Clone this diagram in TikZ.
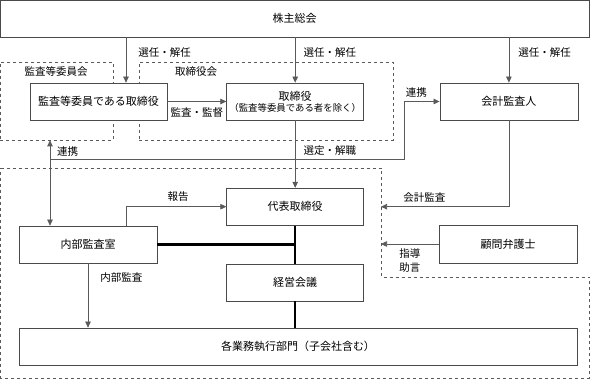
\documentclass[tikz,border=0pt]{standalone}
\usepackage{fontspec}
\newfontfamily\jpfont{Noto Sans CJK JP}
\usepackage{tikz}
\usetikzlibrary{positioning,arrows.meta,calc}
\definecolor{colLinea}{HTML}{5A5A5A}
\definecolor{colBorde}{HTML}{4A4A4A}

\begin{document}
\begin{tikzpicture}[
  x=1pt, y=-1pt,
  font=\jpfont\fontsize{11}{13}\selectfont,
  >={Triangle[length=6pt,width=5.5pt]},
  caja/.style={
    rectangle, draw=colBorde, fill=white, line width=0.7pt,
    minimum width=137pt, minimum height=37pt, inner sep=0pt
  },
  grupo/.style={
    rectangle, draw=colLinea, dashed, line width=0.7pt,
    inner sep=0pt
  },
  flecha/.style={->, draw=colLinea, line width=0.7pt},
  grueso/.style={draw=black, line width=2.2pt},
  etiqueta/.style={inner sep=0pt, font=\jpfont\fontsize{10.5}{14}\selectfont}
]
  \useasboundingbox (0,0) rectangle (590,379);

  % Grupos punteados
  \node[grupo, minimum width=113pt, minimum height=78pt] (grpKansa) at (56.5,101) {};
  \node[etiqueta] at (56,72) {監査等委員会};
  \node[grupo, minimum width=254pt, minimum height=78pt] (grpTorishimari) at (266,101) {};
  \node[etiqueta] at (196,72) {取締役会};

  \coordinate (gyoA) at (0.5,168);
  \coordinate (gyoB) at (381,168);
  \coordinate (gyoC) at (381,277);
  \coordinate (gyoD) at (589,277);
  \coordinate (gyoE) at (589,378);
  \coordinate (gyoF) at (0.5,378);
  \draw[colLinea, dashed, line width=0.7pt]
    (gyoA) -- (gyoB) -- (gyoC) -- (gyoD) -- (gyoE) -- (gyoF) -- cycle;

  % Cajas
  \node[caja, minimum width=589pt] (kabunushi) at (294.5,18.5) {株主総会};
  \node[caja] (kansa) at (98.5,101.5) {監査等委員である取締役};
  \node[caja, right=59pt of kansa, align=center] (torishimari)
    {取締役\\[-2pt]{\fontsize{9.4}{11}\selectfont （監査等委員である者を除く）}};
  \node[caja, right=75.5pt of torishimari, minimum width=138pt] (kaikei) {会計監査人};
  \node[caja, below=67.5pt of torishimari] (daihyo) {代表取締役};
  \node[caja, below=38pt of daihyo] (keiei) {経営会議};
  \node[caja, minimum width=138pt] (naibu) at (88,244.5) {内部監査室};
  \node[caja, minimum width=138pt, minimum height=38pt] (komon) at (508,244) {顧問弁護士};
  \node[caja, minimum width=558pt] (gyomu) at (298,346.5) {各業務執行部門（子会社含む）};

  % Relaciones
  \draw[flecha] ([xshift=27.5pt]kansa.north |- kabunushi.south) -- node[etiqueta, pos=0.33, right=12pt] {選任・解任} ([xshift=27.5pt]kansa.north);
  \draw[flecha] (kabunushi.south -| torishimari.north) -- node[etiqueta, pos=0.33, right=8pt] {選任・解任} (torishimari.north);
  \draw[flecha] (kabunushi.south -| kaikei.north) -- node[etiqueta, pos=0.33, right=9pt] {選任・解任} (kaikei.north);
  \draw[flecha] (kansa.east) -- node[etiqueta, below=6pt] {監査・監督} (torishimari.west);
  \draw[flecha] (torishimari.south) -- node[etiqueta, pos=0.44, right=8pt] {選定・解職} (daihyo.north);

  \draw[flecha, <->] ([xshift=-6.5pt]grpKansa.south) -- ([xshift=-38pt]naibu.north);
  \coordinate (renkei) at (50,159);
  \node[etiqueta, anchor=south west] at ([xshift=7pt,yshift=2pt]renkei) {連携};
  \draw[flecha] (renkei) -| ($(kaikei.west)+(-35pt,0)$) node[etiqueta, anchor=south west, xshift=1pt, yshift=4pt] {連携} -- (kaikei.west);

  \draw[flecha] ([xshift=38pt]naibu.north) |- node[etiqueta, pos=0.76, above=5pt] {報告} (daihyo.west);
  \draw[flecha] (naibu.south) -- node[etiqueta, pos=0.22, right=12pt] {内部監査} (naibu.south |- gyomu.north);

  \draw[grueso] (daihyo.south) -- (keiei.north);
  \draw[grueso] (naibu.east) -- (naibu.east -| daihyo.south);
  \draw[grueso] (keiei.south) -- (keiei.south |- gyomu.north);

  \draw[flecha] (kaikei.south) |- node[etiqueta, pos=0.83, above=4pt] {会計監査} (gyoB |- daihyo.west);
  \draw[flecha] (komon.west) -- node[etiqueta, below=4pt, align=left] {指導\\助言} (komon.west -| gyoB);

\end{tikzpicture}
\end{document}
